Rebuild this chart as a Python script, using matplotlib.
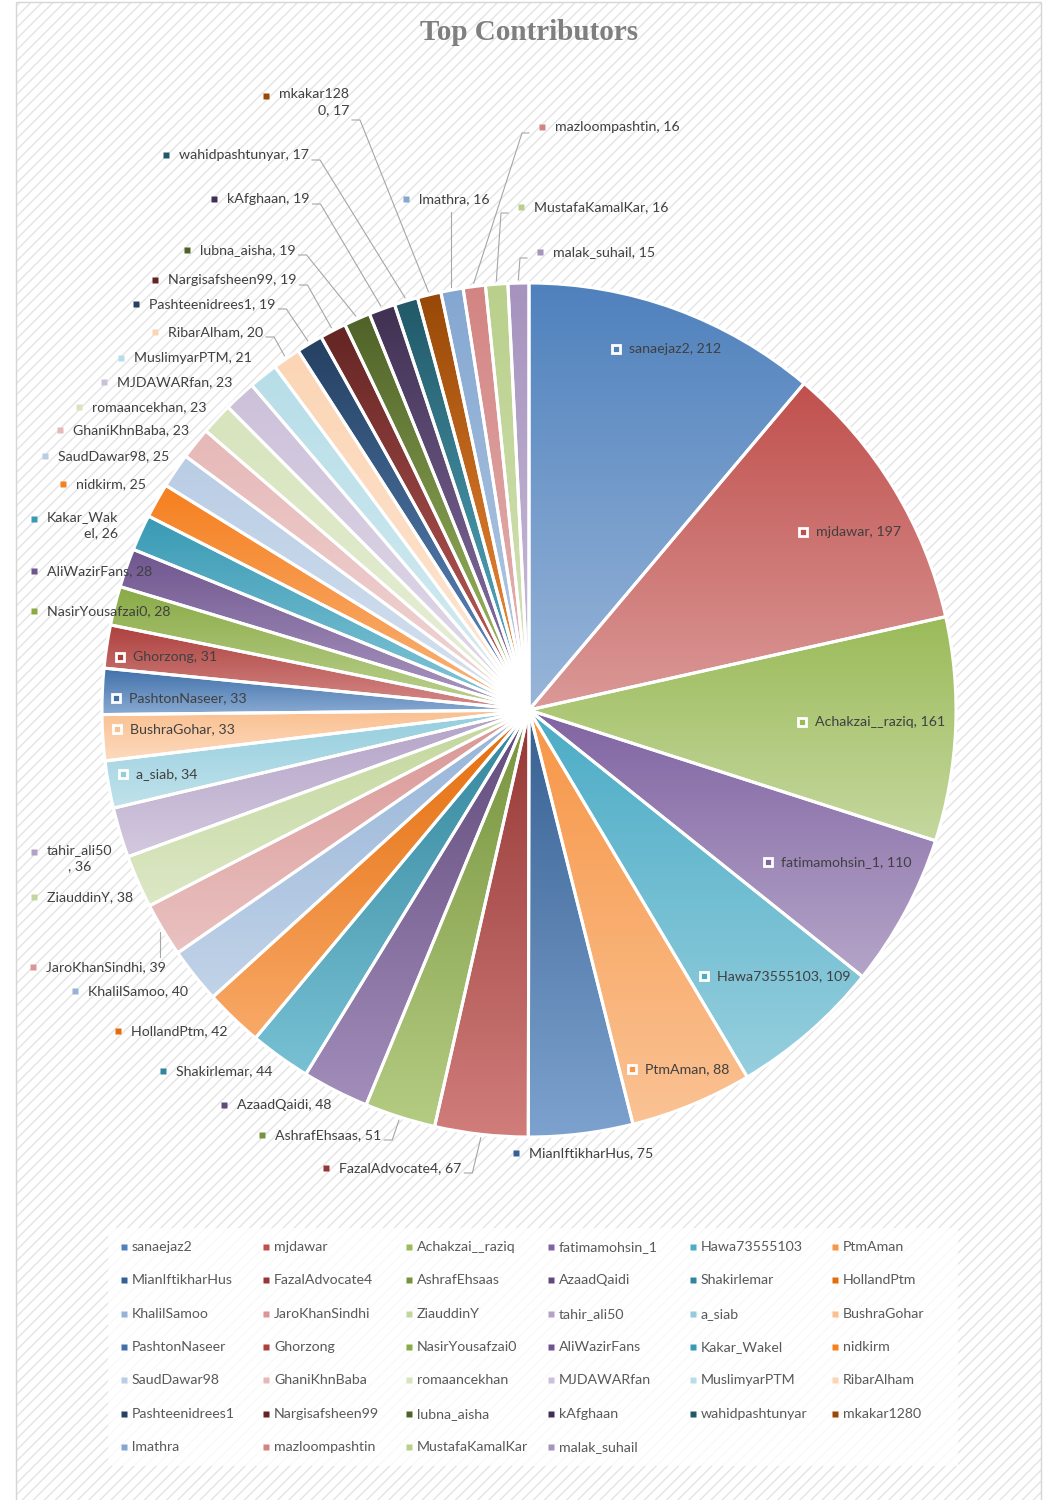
import colorsys
import numpy as np
import matplotlib
matplotlib.use('Agg')
import matplotlib.pyplot as plt
from matplotlib.patches import Rectangle
from matplotlib import colors as mcolors

# ---------- Data ----------
names = ['sanaejaz2', 'mjdawar', 'Achakzai__raziq', 'fatimamohsin_1', 'Hawa73555103', 'PtmAman',
         'MianIftikharHus', 'FazalAdvocate4', 'AshrafEhsaas', 'AzaadQaidi', 'Shakirlemar', 'HollandPtm',
         'KhalilSamoo', 'JaroKhanSindhi', 'ZiauddinY', 'tahir_ali50', 'a_siab', 'BushraGohar',
         'PashtonNaseer', 'Ghorzong', 'NasirYousafzai0', 'AliWazirFans', 'Kakar_Wakel', 'nidkirm',
         'SaudDawar98', 'GhaniKhnBaba', 'romaancekhan', 'MJDAWARfan', 'MuslimyarPTM', 'RibarAlham',
         'Pashteenidrees1', 'Nargisafsheen99', 'lubna_aisha', 'kAfghaan', 'wahidpashtunyar', 'mkakar1280',
         'lmathra', 'mazloompashtin', 'MustafaKamalKar', 'malak_suhail']
values = [212, 197, 161, 110, 109, 88,
          75, 67, 51, 48, 44, 42,
          40, 39, 38, 36, 34, 33,
          33, 31, 28, 28, 26, 25,
          25, 23, 23, 23, 21, 20,
          19, 19, 19, 19, 17, 17,
          16, 16, 16, 15]
title = 'Top Contributors'

# ---------- Opmaak ----------
W, H = 1061, 1500
CX, CY, R = 529, 710, 427          # pixels
TXT = '#404040'
FONT = 'Lato'
FS = 10.2

def Y(y):
    # pixel (van boven) naar data y
    return H - y

# Office 2007 accentkleuren + varianten zoals Excel ze doorloopt
base_colors = ['#4F81BD', '#C0504D', '#9BBB59', '#8064A2', '#4BACC6', '#F79646']
variants = [('base', 0), ('shade', 0.25), ('tint', 0.40), ('shade', 0.13),
            ('tint', 0.60), ('shade', 0.50), ('tint', 0.30)]

def variant(rgb, kind, amt):
    r, g, b = mcolors.to_rgb(rgb)
    h, l, s = colorsys.rgb_to_hls(r, g, b)
    if kind == 'shade':
        l = l * (1 - amt)
    elif kind == 'tint':
        l = l * (1 - amt) + amt
    return colorsys.hls_to_rgb(h, l, s)

slice_colors = [variant(base_colors[i % 6], *variants[i // 6]) for i in range(len(values))]

# label posities (middelpunt markertje, pixels)
inside_pos = {'sanaejaz2': (616, 349), 'mjdawar': (803, 532), 'Achakzai__raziq': (802, 722),
              'fatimamohsin_1': (768, 862), 'Hawa73555103': (704, 976), 'PtmAman': (632, 1069),
              'Ghorzong': (120, 657), 'PashtonNaseer': (116, 698), 'BushraGohar': (117, 729),
              'a_siab': (123, 774)}
outside_pos = {'mkakar1280': (266, 96), 'wahidpashtunyar': (166, 155), 'kAfghaan': (214, 199),
               'lubna_aisha': (187, 250), 'Nargisafsheen99': (155, 280), 'Pashteenidrees1': (136, 304),
               'RibarAlham': (155, 332), 'MuslimyarPTM': (121, 358), 'MJDAWARfan': (104, 382),
               'romaancekhan': (79, 407), 'GhaniKhnBaba': (60, 430), 'SaudDawar98': (45, 456),
               'nidkirm': (63, 484), 'Kakar_Wakel': (34, 519), 'AliWazirFans': (34, 571),
               'NasirYousafzai0': (34, 611), 'tahir_ali50': (34, 852), 'ZiauddinY': (34, 897),
               'JaroKhanSindhi': (33, 967), 'KhalilSamoo': (75, 991), 'HollandPtm': (118, 1031),
               'Shakirlemar': (163, 1071), 'AzaadQaidi': (224, 1105), 'AshrafEhsaas': (262, 1135),
               'FazalAdvocate4': (326, 1168), 'MianIftikharHus': (516, 1153), 'lmathra': (406, 199),
               'mazloompashtin': (542, 127), 'MustafaKamalKar': (521, 207), 'malak_suhail': (540, 252)}
# labels over twee regels: (knippunt, uitlijning)
wraps = {'mkakar1280': (9, 'right'), 'Kakar_Wakel': (9, 'right'), 'tahir_ali50': (11, 'center')}
leaders = {'mkakar1280': 'r', 'wahidpashtunyar': 'r', 'kAfghaan': 'r', 'lubna_aisha': 'r',
           'Nargisafsheen99': 'r', 'Pashteenidrees1': 'r', 'RibarAlham': 'r', 'AshrafEhsaas': 'r',
           'FazalAdvocate4': 'r', 'mazloompashtin': 'l', 'MustafaKamalKar': 'l', 'malak_suhail': 'l',
           'lmathra': 'vd', 'JaroKhanSindhi': 'vu'}

# ---------- Figuur ----------
fig = plt.figure(figsize=(W / 100, H / 100), dpi=100)
ax = fig.add_axes([0, 0, 1, 1])

# achtergrond met fijne diagonale arcering
plt.rcParams['hatch.linewidth'] = 1.0
ax.add_patch(Rectangle((16, Y(H + 5)), 1025, H + 3, facecolor='white', edgecolor='#e4e4e4',
                       hatch='///', lw=0, zorder=0))
ax.add_patch(Rectangle((16, Y(H + 5)), 1025, H + 3, fill=False, edgecolor='#d6d6d6', lw=1, zorder=0.5))

wedges, _ = ax.pie(values, colors=slice_colors, startangle=90, counterclock=False,
                   center=(CX, Y(CY)), radius=R,
                   wedgeprops=dict(edgecolor='white', linewidth=2.2))

# verloop per taartpunt: boven de kleur, onder lichter (verzadiging blijft)
for w, c in zip(wedges, slice_colors):
    ts = np.radians(np.linspace(w.theta1, w.theta2, 200))
    xs = np.concatenate([[CX], CX + R * np.cos(ts)])
    ys = np.concatenate([[Y(CY)], Y(CY) + R * np.sin(ts)])
    top = np.array(c)
    light = np.array(variant(c, 'tint', 0.42))
    t = np.linspace(0, 1, 128)[:, None]
    grad = ((1 - t) * top + t * light).reshape(128, 1, 3)
    im = ax.imshow(grad, extent=(xs.min(), xs.max(), ys.min(), ys.max()), origin='upper',
                   aspect='auto', interpolation='bilinear', zorder=1)
    im.set_clip_path(w)
    w.set_facecolor('none')
    w.set_zorder(2)

ax.set_xlim(0, W)
ax.set_ylim(0, H)
ax.set_aspect('auto')
ax.axis('off')

# titel
ax.text(CX, Y(33), title, ha='center', va='center', fontsize=21, fontweight='bold',
        color='#7f7f7f', family='Liberation Serif')

renderer = fig.canvas.get_renderer()
inv = ax.transData.inverted()

for i, name in enumerate(names):
    label = f'{name}, {values[i]}'
    c = slice_colors[i]
    if name in inside_pos:
        mx, my = inside_pos[name]
        ax.plot(mx, Y(my), marker='s', ms=6, mfc=c, mec='white', mew=2, zorder=5)
        ax.text(mx + 13, Y(my), label, ha='left', va='center', fontsize=FS, color=TXT,
                family=FONT, zorder=6)
        continue
    mx, my = outside_pos[name]
    ax.plot(mx, Y(my), marker='s', ms=4.4, mfc=c, mec='none', zorder=5)
    if name in wraps:
        k, ma = wraps[name]
        label = label[:k] + '\n' + label[k:]
        t = ax.text(mx + 13, Y(my) + 8, label, ha='left', va='top', fontsize=FS, color=TXT,
                    family=FONT, multialignment=ma, linespacing=1.4, zorder=6)
    else:
        t = ax.text(mx + 13, Y(my), label, ha='left', va='center', fontsize=FS, color=TXT,
                    family=FONT, zorder=6)

    mode = leaders.get(name)
    if mode is None:
        continue
    w = wedges[i]
    mid = np.radians((w.theta1 + w.theta2) / 2)
    ex = CX + R * 1.008 * np.cos(mid)
    ey = Y(CY) + R * 1.008 * np.sin(mid)
    bb = t.get_window_extent(renderer).transformed(inv)
    if mode == 'r':
        ys_ = Y(my + 5) if name not in wraps else Y(my + 24)
        x0 = bb.x1 + 3
        ax.plot([x0, x0 + 8, ex], [ys_, ys_, ey], color='#a6a6a6', lw=0.8, zorder=4)
    elif mode == 'l':
        ys_ = Y(my + 6)
        x0 = mx - 13
        ax.plot([x0, x0 - 7, ex], [ys_, ys_, ey], color='#a6a6a6', lw=0.8, zorder=4)
    elif mode == 'vd':
        ax.plot([ex, ex], [Y(my + 13), ey], color='#a6a6a6', lw=0.8, zorder=4)
    elif mode == 'vu':
        ax.plot([ex, ex], [Y(my - 10), ey], color='#a6a6a6', lw=0.8, zorder=4)

# legenda onderaan, 6 kolommen rij voor rij
ax.add_patch(Rectangle((108, Y(1466)), 850, 238, facecolor='white', edgecolor='none',
                       alpha=0.8, zorder=1))
col_x = [124, 266, 409, 551, 693, 835]
row_y = [1247, 1280, 1314, 1347, 1380, 1414, 1447]
for i, name in enumerate(names):
    lx, ly = col_x[i % 6], row_y[i // 6]
    ax.plot(lx, Y(ly), marker='s', ms=4.4, mfc=slice_colors[i], mec='none', zorder=5)
    ax.text(lx + 8, Y(ly), name, ha='left', va='center', fontsize=FS, color='#595959',
            family=FONT, zorder=6)

fig.savefig('out.png', dpi=100)
